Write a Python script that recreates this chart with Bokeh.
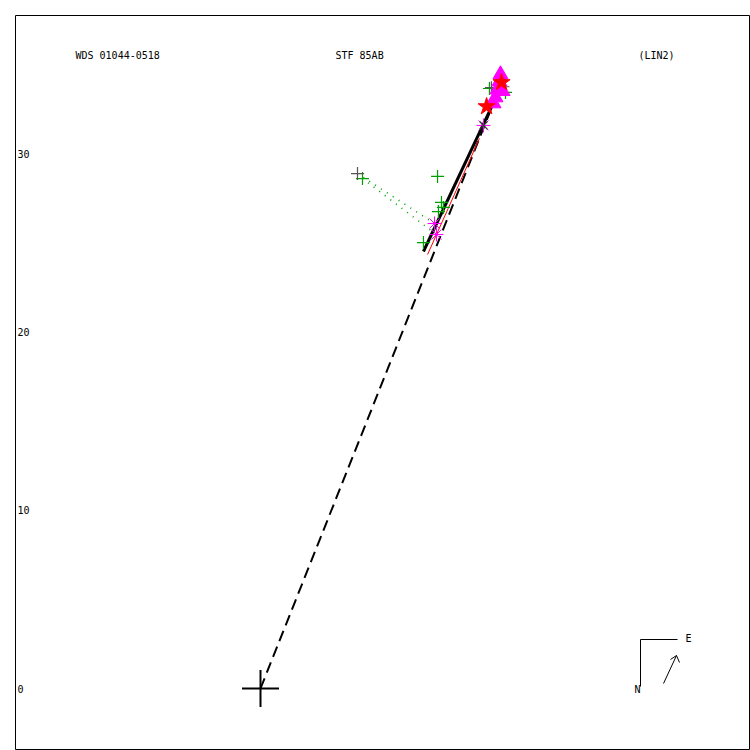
from bokeh.plotting import figure
from bokeh.models import Range1d
from bokeh.embed import file_html
from bokeh.resources import INLINE
from bokeh.core.properties import value

# ---- data (units: arcsec, primary at origin) ----
title_left = "WDS 01044-0518"
title_mid = "STF  85AB"
title_right = "(LIN2)"
y_ticks = [0, 10, 20, 30]

fit_x = [9.14, 13.74]
fit_y = [24.51, 34.27]
node_x = [0.0, 12.90]
node_y = [0.0, 32.42]
red_x = [9.37, 12.28]
red_y = [24.34, 30.85]

green_x = [5.72, 9.93, 10.15, 10.26, 9.98, 9.14, 12.84, 13.74]
green_y = [28.60, 28.72, 27.26, 26.98, 26.75, 25.01, 33.65, 33.43]
gray_x = [5.44, 12.95, 13.60]
gray_y = [28.88, 33.70, 33.75]
green_pred_x = [9.87, 10.12, 10.30, 10.38, 10.22, 9.40, 12.98, 13.70]
green_pred_y = [25.46, 28.40, 27.00, 26.85, 26.60, 24.95, 33.55, 33.40]
gray_pred_x = [9.76, 12.98, 13.62]
gray_pred_y = [26.08, 33.60, 33.65]

ast_x = [9.76, 9.87, 12.51]
ast_y = [26.08, 25.46, 31.58]
cross_x = [12.51]
cross_y = [31.58]
star_x = [12.68, 13.52]
star_y = [32.64, 33.99]
tri_x = [13.46, 13.40, 13.29, 13.18, 13.07, 13.58]
tri_y = [34.44, 34.04, 33.59, 33.15, 32.81, 33.50]

S = 17.83  # px per arcsec
OX, OY = 260, 688


def dx(px):
    return (px - OX) / S


def dy(py):
    return (OY - py) / S


p = figure(width=750, height=750, output_backend="svg", toolbar_location=None,
           x_range=Range1d(dx(15), dx(750)), y_range=Range1d(dy(749), dy(15)),
           min_border_left=15, min_border_top=15, min_border_right=0, min_border_bottom=1)
p.axis.visible = False
p.grid.visible = False
p.outline_line_color = "black"
p.outline_line_width = 1
p.background_fill_color = "white"
p.border_fill_color = "white"

font = value("DejaVu Sans Mono")

# titles
p.text(x=[dx(75)], y=[dy(55)], text=[title_left], text_font=font, text_font_size="10px",
       text_baseline="middle", text_align="left", text_color="black")
p.text(x=[dx(335)], y=[dy(55)], text=[title_mid], text_font=font, text_font_size="10px",
       text_baseline="middle", text_align="left", text_color="black")
p.text(x=[dx(638)], y=[dy(55)], text=[title_right], text_font=font, text_font_size="10px",
       text_baseline="middle", text_align="left", text_color="black")

# y tick labels inside the frame
p.text(x=[dx(17)] * len(y_ticks), y=y_ticks, text=[str(t) for t in y_ticks], text_font=font,
       text_font_size="10px", text_baseline="middle", text_align="left", text_color="black")

# O-C dotted lines
for ox, oy, px_, py_ in zip(green_x, green_y, green_pred_x, green_pred_y):
    p.line([ox, px_], [oy, py_], line_color="#00a000", line_width=1.6, line_dash="1 6")
for ox, oy, px_, py_ in zip(gray_x, gray_y, gray_pred_x, gray_pred_y):
    p.line([ox, px_], [oy, py_], line_color="#00a000", line_width=1.6, line_dash="1 6")

# line to node / dashed line
p.line(node_x, node_y, line_color="black", line_width=2, line_dash="11 6")
# fitted linear path
p.line(fit_x, fit_y, line_color="black", line_width=3)
p.line(red_x, red_y, line_color="red", line_width=1)

# primary
p.scatter([0], [0], marker="cross", size=37, line_color="black", line_width=2)

# observations
p.scatter(green_x, green_y, marker="cross", size=13, line_color="#00a000", line_width=1.2)
p.scatter(gray_x, gray_y, marker="cross", size=13, line_color="#555555", line_width=1.2)
p.scatter(ast_x, ast_y, marker="asterisk", size=14, line_color="#ff00ff", line_width=1)
p.scatter(cross_x, cross_y, marker="x", size=11, line_color="#333333", line_width=1.2)
p.scatter(tri_x, tri_y, marker="triangle", size=15, fill_color="#ff00ff", line_color="#ff00ff")
p.scatter(star_x, star_y, marker="star", size=18, fill_color="red", line_color="red")

# compass
p.line([dx(640), dx(640)], [dy(686), dy(639)], line_color="black", line_width=1)
p.line([dx(640), dx(677)], [dy(639), dy(639)], line_color="black", line_width=1)
p.line([dx(663), dx(676)], [dy(683), dy(655)], line_color="black", line_width=1)
p.line([dx(670), dx(676), dx(679)], [dy(659), dy(655), dy(662)], line_color="black", line_width=1)
p.text(x=[dx(685)], y=[dy(638)], text=["E"], text_font=font, text_font_size="10px",
       text_baseline="middle", text_align="left", text_color="black")
p.text(x=[dx(637)], y=[dy(689)], text=["N"], text_font=font, text_font_size="10px",
       text_baseline="middle", text_align="center", text_color="black")

open("out.html", "w").write(file_html(p, INLINE))
